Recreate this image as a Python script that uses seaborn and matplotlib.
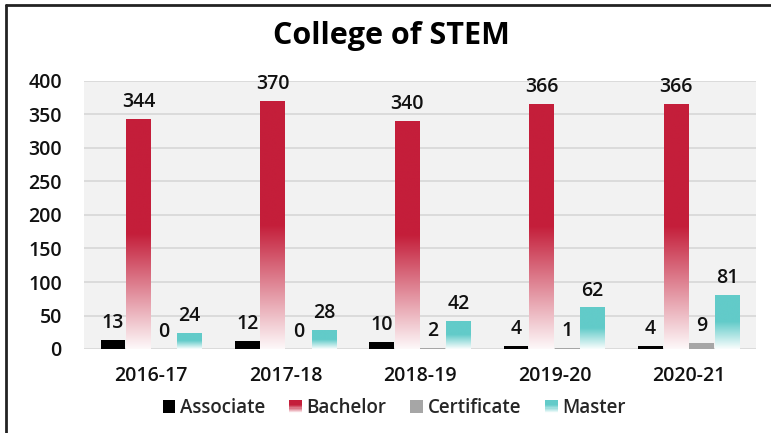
import numpy as np
import pandas as pd
import matplotlib
matplotlib.use("Agg")
import matplotlib.pyplot as plt
import seaborn as sns
from matplotlib.colors import to_rgb
from matplotlib.patches import Rectangle
from matplotlib.legend_handler import HandlerBase
from matplotlib.lines import Line2D

years = ["2016-17", "2017-18", "2018-19", "2019-20", "2020-21"]
associate = [13, 12, 10, 4, 4]
bachelor = [344, 370, 340, 366, 366]
certificate = [0, 0, 2, 1, 9]
master = [24, 28, 42, 62, 81]
series_names = ["Associate", "Bachelor", "Certificate", "Master"]
yticks = [0, 50, 100, 150, 200, 250, 300, 350, 400]

colors = {"Associate": "#000000", "Bachelor": "#c41e3a",
          "Certificate": "#a6a6a6", "Master": "#62cbc9"}
gradient = {"Associate": False, "Bachelor": True, "Certificate": False, "Master": True}

df = pd.DataFrame({
    "Year": years * 4,
    "Series": sum([[s] * len(years) for s in series_names], []),
    "Value": associate + bachelor + certificate + master,
})

sns.set_style("white")
plt.rcParams["font.family"] = ["Open Sans", "DejaVu Sans"]

fig = plt.figure(figsize=(7.71, 4.33), dpi=100)
ax = fig.add_axes([84 / 771, 1 - 349 / 433, (756 - 84) / 771, (349 - 81) / 433])
ax.set_facecolor("#f2f2f2")

sns.barplot(data=df, x="Year", y="Value", hue="Series", hue_order=series_names,
            palette=colors, width=0.76, gap=0.03, ax=ax, legend=False,
            edgecolor="none", linewidth=0, errorbar=None)

ax.set_ylim(0, 400)
ax.set_yticks(yticks)
ax.set_xlim(-0.5, 4.5)
ax.grid(axis="y", color="#d9d9d9", linewidth=1.3, zorder=0)
ax.set_axisbelow(True)
for s in ax.spines.values():
    s.set_visible(False)
ax.set_xlabel("")
ax.set_ylabel("")
ax.tick_params(axis="both", length=0, labelsize=14, colors="#111111")
ax.tick_params(axis="x", pad=12)
ax.tick_params(axis="y", pad=16)
for lab in ax.get_xticklabels() + ax.get_yticklabels():
    lab.set_fontweight("semibold")


def grad_array(color, n=256, solid_frac=0.5):
    c = np.array(to_rgb(color))
    w = np.array([1.0, 1.0, 1.0])
    t = np.linspace(0, 1, n)  # 0 bottom -> 1 top
    f = np.clip(t / solid_frac, 0, 1)
    f = 0.03 + 0.97 * f
    arr = w[None, :] * (1 - f[:, None]) + c[None, :] * f[:, None]
    return arr[::-1][:, None, :]  # top row first


bars = [p for p in ax.patches if isinstance(p, Rectangle)]
n_years = len(years)
values_by_series = [associate, bachelor, certificate, master]
idx = 0
for si, s in enumerate(series_names):
    for yi in range(n_years):
        p = bars[idx]
        idx += 1
        x, w, h = p.get_x(), p.get_width(), p.get_height()
        v = values_by_series[si][yi]
        if gradient[s] and h > 0:
            p.set_facecolor("none")
            im = ax.imshow(grad_array(colors[s]), extent=[x, x + w, 0, h],
                           aspect="auto", zorder=2, interpolation="bilinear")
            im.set_clip_path(p)
        ax.annotate(f"{v}", (x + w / 2, h), xytext=(0, 5), textcoords="offset points",
                    ha="center", va="bottom", fontsize=14, fontweight="semibold",
                    color="#111111")

ax.set_xlim(-0.5, 4.5)
ax.set_ylim(0, 400)
ax.set_aspect("auto")

fig.text(391 / 771, 1 - 36 / 433, "College of STEM", ha="center", va="center",
         fontsize=22, fontweight="bold", color="#000000")


class GradHandler(HandlerBase):
    def __init__(self, color, grad):
        super().__init__()
        self.color = color
        self.grad = grad

    def create_artists(self, legend, orig_handle, xdescent, ydescent, width, height,
                       fontsize, trans):
        size = min(width, height) * 0.95
        x0 = xdescent + width - size
        y0 = -ydescent + (height - size) / 2
        arts = []
        if not self.grad:
            arts.append(Rectangle((x0, y0), size, size, facecolor=self.color,
                                  edgecolor="none", transform=trans))
        else:
            n = 12
            arr = grad_array(self.color, n=n, solid_frac=0.6)[::-1, 0, :]
            for i in range(n):
                arts.append(Rectangle((x0, y0 + size * i / n), size, size / n + 0.3,
                                      facecolor=arr[i], edgecolor="none", transform=trans))
        return arts


handles = [Line2D([], [], label=s) for s in series_names]
hmap = {h: GradHandler(colors[s], gradient[s]) for h, s in zip(handles, series_names)}
leg = fig.legend(handles=handles, labels=series_names, handler_map=hmap, loc="center",
                 bbox_to_anchor=(394 / 771, 1 - 408 / 433), ncol=4, frameon=False,
                 fontsize=13.5, handlelength=0.7, handletextpad=0.25, columnspacing=1.25)
for t in leg.get_texts():
    t.set_fontweight("semibold")

fig.add_artist(Line2D([6 / 771, 1.0], [1 - 5 / 433, 1 - 5 / 433], transform=fig.transFigure,
                      color="#222222", linewidth=2))
fig.add_artist(Line2D([6 / 771, 6 / 771], [0, 1 - 5 / 433], transform=fig.transFigure,
                      color="#222222", linewidth=2))

fig.savefig("out.png", dpi=100, facecolor="white")
